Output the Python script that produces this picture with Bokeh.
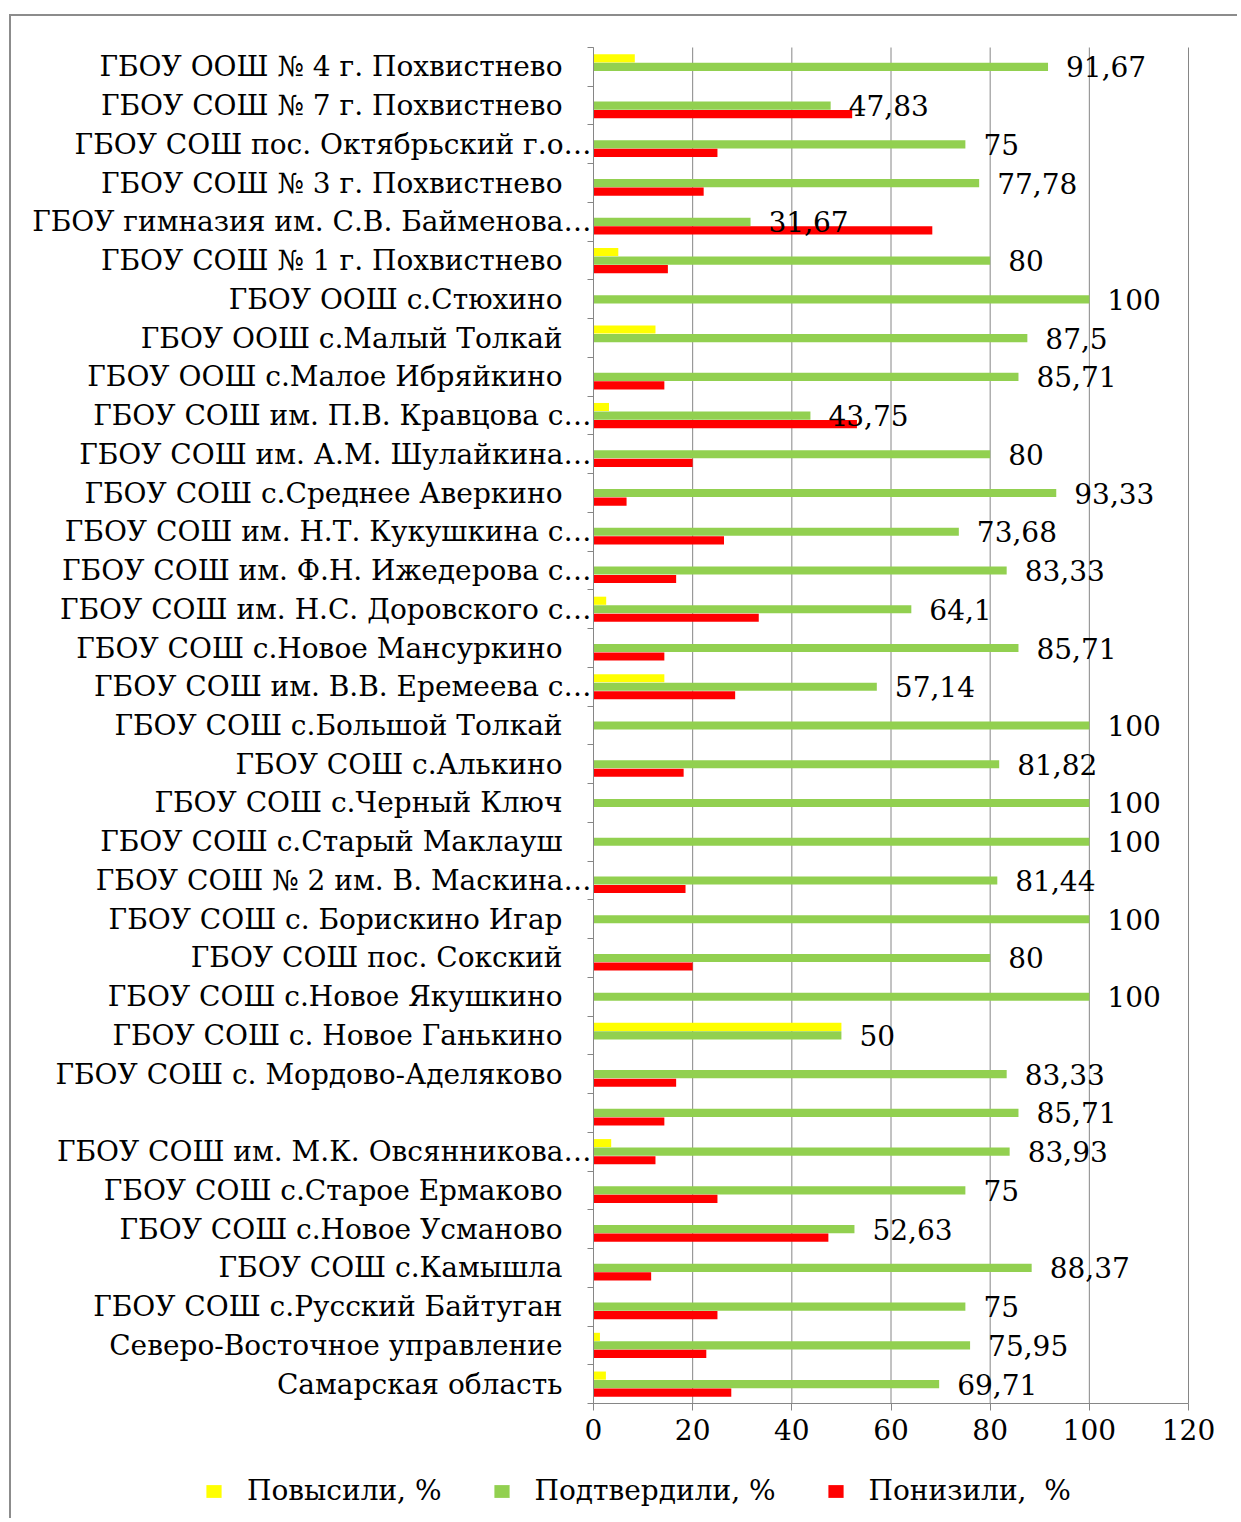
from bokeh.plotting import figure
from bokeh.models import (ColumnDataSource, Range1d, FixedTicker, LabelSet, Legend,
                          LegendItem, LinearAxis)
from bokeh.transform import dodge
from bokeh.core.properties import value
from bokeh.embed import file_html
from bokeh.resources import INLINE

categories = [
    "ГБОУ ООШ № 4 г. Похвистнево",
    "ГБОУ СОШ № 7 г. Похвистнево",
    "ГБОУ СОШ пос. Октябрьский г.о…",
    "ГБОУ СОШ № 3 г. Похвистнево",
    "ГБОУ гимназия им. С.В. Байменова…",
    "ГБОУ СОШ № 1 г. Похвистнево",
    "ГБОУ ООШ с.Стюхино",
    "ГБОУ ООШ с.Малый Толкай",
    "ГБОУ ООШ с.Малое Ибряйкино",
    "ГБОУ СОШ им. П.В. Кравцова с…",
    "ГБОУ СОШ им. А.М. Шулайкина…",
    "ГБОУ СОШ с.Среднее Аверкино",
    "ГБОУ СОШ им. Н.Т. Кукушкина с…",
    "ГБОУ СОШ им. Ф.Н. Ижедерова с…",
    "ГБОУ СОШ им. Н.С. Доровского с…",
    "ГБОУ СОШ с.Новое Мансуркино",
    "ГБОУ СОШ им. В.В. Еремеева с…",
    "ГБОУ СОШ с.Большой Толкай",
    "ГБОУ СОШ с.Алькино",
    "ГБОУ СОШ с.Черный Ключ",
    "ГБОУ СОШ с.Старый Маклауш",
    "ГБОУ СОШ № 2 им. В. Маскина…",
    "ГБОУ СОШ с. Борискино Игар",
    "ГБОУ СОШ пос. Сокский",
    "ГБОУ СОШ с.Новое Якушкино",
    "ГБОУ СОШ с. Новое Ганькино",
    "ГБОУ СОШ с. Мордово-Аделяково",
    "",
    "ГБОУ СОШ им. М.К. Овсянникова…",
    "ГБОУ СОШ с.Старое Ермаково",
    "ГБОУ СОШ с.Новое Усманово",
    "ГБОУ СОШ с.Камышла",
    "ГБОУ СОШ с.Русский Байтуган",
    "Северо-Восточное управление",
    "Самарская область",
]

raised = [8.33, 0, 0, 0, 0, 5, 0, 12.5, 0, 3.13, 0, 0, 0, 0, 2.56, 0, 14.29, 0, 0, 0,
          0, 0, 0, 0, 0, 50, 0, 0, 3.57, 0, 0, 0, 0, 1.3, 2.5]
confirmed = [91.67, 47.83, 75, 77.78, 31.67, 80, 100, 87.5, 85.71, 43.75, 80, 93.33,
             73.68, 83.33, 64.1, 85.71, 57.14, 100, 81.82, 100, 100, 81.44, 100, 80,
             100, 50, 83.33, 85.71, 83.93, 75, 52.63, 88.37, 75, 75.95, 69.71]
lowered = [0, 52.17, 25, 22.22, 68.33, 15, 0, 0, 14.29, 53.13, 20, 6.67, 26.32, 16.67,
           33.33, 14.29, 28.57, 0, 18.18, 0, 0, 18.56, 0, 20, 0, 0, 16.67, 14.29, 12.5,
           25, 47.37, 11.63, 25, 22.75, 27.79]

series_names = ["Повысили, %", "Подтвердили, %", "Понизили,  %"]
series_colors = ["#FFFF00", "#92D050", "#FF0000"]
x_ticks = [0, 20, 40, 60, 80, 100, 120]
x_min, x_max = 0, 120

FONT = "DejaVu Serif"
FS = "28px"
GRAY = "#868686"
n = len(categories)

def fmt(v):
    return f"{v:g}".replace(".", ",")

# non-truncated labels stop short of the axis, truncated ones run up to it
PAD = "\u2007\u2009\u2009"
label_overrides = {i: (c if c.endswith("…") or c == "" else c + PAD)
                   for i, c in enumerate(categories)}

src = ColumnDataSource(dict(
    y=list(range(n)),
    up=raised,
    same=confirmed,
    down=lowered,
    lbl=[fmt(v) for v in confirmed],
))

# ---- layout (page pixels) ----
W, H = 1228, 1504
OX, OY = 11, 16                  # canvas origin on the page (margin + border)
PLOT_L, PLOT_R = 593, 1188       # where x_min / x_max sit
PLOT_T, PLOT_B = 47, 1403        # top / bottom of the category area

px_per_x = (PLOT_R - PLOT_L) / (x_max - x_min)
px_per_row = (PLOT_B - PLOT_T) / n
xr = Range1d((OX - PLOT_L) / px_per_x + x_min, (OX + W - PLOT_L) / px_per_x + x_min)
yr = Range1d((OY + H - PLOT_T) / px_per_row - 0.5, (OY - PLOT_T) / px_per_row - 0.5)

p = figure(width=W, height=H, title=None, x_range=xr, y_range=yr,
           x_axis_location=None, y_axis_location=None,
           output_backend="svg", toolbar_location=None, min_border=0)
p.grid.visible = False
p.outline_line_color = None
p.background_fill_color = "white"
p.border_fill_color = "white"
p.styles = {"margin-left": "9px", "margin-top": "14px",
            "border-left": "2px solid #8c8c8c", "border-top": "2px solid #8c8c8c"}

# vertical grid lines over the category area only
grid_src = ColumnDataSource(dict(gx=x_ticks, y0=[-0.5] * len(x_ticks),
                                 y1=[n - 0.5] * len(x_ticks)))
p.segment(x0="gx", x1="gx", y0="y0", y1="y1", source=grid_src,
          line_color=GRAY, line_width=1)

# x axis
xaxis = LinearAxis(ticker=FixedTicker(ticks=x_ticks), fixed_location=n - 0.5,
                   bounds=(x_min, x_max))
xaxis.axis_line_color = GRAY
xaxis.major_tick_line_color = GRAY
xaxis.major_tick_out = 7
xaxis.major_tick_in = 0
xaxis.minor_tick_line_color = None
xaxis.major_label_text_font = FONT
xaxis.major_label_text_font_size = FS
xaxis.major_label_text_color = "black"
xaxis.major_label_standoff = 8
p.add_layout(xaxis, "below")

# y axis: labels at category centres, tick marks at category boundaries
yaxis = LinearAxis(ticker=FixedTicker(ticks=list(range(n)),
                                      minor_ticks=[i - 0.5 for i in range(n + 1)]),
                   fixed_location=x_min, bounds=(-0.5, n - 0.5))
yaxis.major_label_overrides = label_overrides
yaxis.axis_line_color = GRAY
yaxis.major_tick_line_color = None
yaxis.major_tick_out = 0
yaxis.major_tick_in = 0
yaxis.minor_tick_line_color = GRAY
yaxis.minor_tick_out = 6
yaxis.minor_tick_in = 0
yaxis.major_label_standoff = -4
yaxis.major_label_text_font = FONT
yaxis.major_label_text_font_size = FS
yaxis.major_label_text_color = "black"
p.add_layout(yaxis, "left")

bh = 0.21
r_up = p.hbar(y=dodge("y", -0.22), left=0, right="up", height=bh, source=src,
              fill_color=series_colors[0], line_color=None)
r_same = p.hbar(y="y", left=0, right="same", height=bh, source=src,
                fill_color=series_colors[1], line_color=None)
r_down = p.hbar(y=dodge("y", 0.22), left=0, right="down", height=bh, source=src,
                fill_color=series_colors[2], line_color=None)

p.add_layout(LabelSet(x="same", y="y", text="lbl", source=src, x_offset=18,
                      text_align="left", text_baseline="middle",
                      text_font=value(FONT), text_font_size=FS,
                      text_color="black"))

legend = Legend(items=[LegendItem(label=nm, renderers=[r])
                       for nm, r in zip(series_names, [r_up, r_same, r_down])],
                orientation="horizontal", location=(204 - OX, 13),
                glyph_width=19, glyph_height=16, label_standoff=24, spacing=50,
                padding=0, margin=0, border_line_color=None,
                background_fill_alpha=0,
                label_text_font=FONT, label_text_font_size=FS,
                label_text_color="black")
p.add_layout(legend)

open("out.html", "w").write(file_html(p, INLINE))
